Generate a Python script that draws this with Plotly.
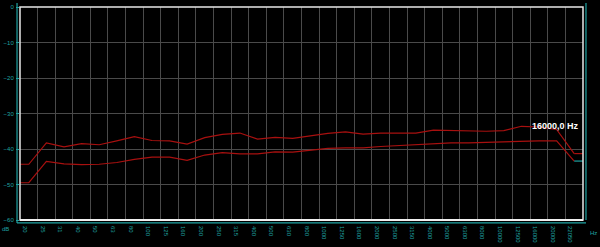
import plotly.graph_objects as go

freq_labels = ["20", "25", "31", "40", "50", "63", "80", "100", "125", "160", "200", "250",
               "315", "400", "500", "630", "800", "1000", "1250", "1600", "2000", "2500",
               "3150", "4000", "5000", "6300", "8000", "10000", "12500", "16000", "20000", "22050"]
upper_db = [-44.3, -38.3, -39.4, -38.5, -38.8, -37.7, -36.5, -37.6, -37.7, -38.6, -36.8, -35.9,
            -35.5, -37.2, -36.7, -37.0, -36.2, -35.6, -35.2, -35.8, -35.5, -35.5, -35.5, -34.7,
            -34.8, -35.0, -35.0, -34.8, -33.6, -33.8, -34.5, -41.3]
lower_db = [-49.5, -43.5, -44.2, -44.4, -44.3, -43.8, -42.9, -42.3, -42.3, -43.2, -41.7, -41.0,
            -41.4, -41.4, -40.8, -40.9, -40.3, -39.8, -39.7, -39.7, -39.3, -39.0, -38.8, -38.4,
            -38.3, -38.3, -38.1, -38.0, -37.7, -37.7, -37.7, -43.4]
y_ticks = [0, -10, -20, -30, -40, -50, -60]
cursor_label = "16000,0 Hz"
cursor_index = 29

TEAL = "#1fa3a3"
RED = "#a8100f"
GRID = "#4a4a4a"

n = len(freq_labels)
centers = [i + 0.5 for i in range(n)]

fig = go.Figure()
for vals in (upper_db, lower_db):
    fig.add_trace(go.Scatter(
        x=[0] + centers, y=[vals[0]] + vals,
        mode="lines", line=dict(color=RED, width=1.2), hoverinfo="skip", showlegend=False))
fig.add_trace(go.Scatter(x=[centers[-1], n], y=[upper_db[-1], upper_db[-1]], mode="lines",
                         line=dict(color=RED, width=1.2), showlegend=False, hoverinfo="skip"))
fig.add_trace(go.Scatter(x=[centers[-1], n], y=[lower_db[-1], lower_db[-1]], mode="lines",
                         line=dict(color=TEAL, width=1.2), showlegend=False, hoverinfo="skip"))

fig.add_annotation(x=cursor_index, y=upper_db[cursor_index - 1], xref="x", yref="y",
                   text="<b>" + cursor_label + "</b>", showarrow=False, xanchor="left",
                   yanchor="middle", font=dict(color="white", size=9, family="Liberation Sans"))

tick_font = dict(color=TEAL, size=6, family="Liberation Sans")

fig.update_layout(
    width=600, height=247,
    margin=dict(l=16, r=17, t=4, b=24),
    paper_bgcolor="black", plot_bgcolor="black",
    xaxis=dict(range=[0, n], tickmode="array", tickvals=list(range(n)), ticktext=freq_labels,
               tickangle=90, tickfont=tick_font, showgrid=True, gridcolor=GRID, gridwidth=1,
               zeroline=False, showline=False, ticks="", ticklabelshift=5, ticklabelstandoff=5,
               fixedrange=True),
    yaxis=dict(range=[-60, 0], tickmode="array", tickvals=y_ticks, tickfont=tick_font,
               showgrid=True, gridcolor=GRID, gridwidth=1, zeroline=False, showline=False,
               ticks="outside", ticklen=3, tickcolor=TEAL, ticklabelstandoff=1),
    yaxis2=dict(range=[-60, 0], tickmode="array", tickvals=y_ticks, tickfont=tick_font,
                overlaying="y", side="right", anchor="x", showgrid=False, zeroline=False,
                showline=False, ticks="outside", ticklen=3, tickcolor=TEAL, ticklabelstandoff=1),
)

# plot frame and teal axis lines (pixel offsets converted to domain fractions)
W, H = 567.0, 219.0
fig.add_shape(type="rect", xref="x domain", yref="y domain", x0=0, x1=1, y0=0, y1=1,
              line=dict(color="#e8e8e8", width=1.5))
fig.add_shape(type="line", xref="x domain", yref="y domain", x0=0, x1=1, y0=0, y1=0,
              line=dict(color="#f0f0f0", width=2.2))
fig.add_shape(type="line", xref="x domain", yref="y domain", x0=-3 / W, x1=-3 / W,
              y0=-3 / H, y1=1 + 4 / H, line=dict(color=TEAL, width=1.2))
fig.add_shape(type="line", xref="x domain", yref="y domain", x0=1 + 3 / W, x1=1 + 3 / W,
              y0=0, y1=1 + 4 / H, line=dict(color=TEAL, width=1.2))
fig.add_shape(type="line", xref="x domain", yref="y domain", x0=-3 / W, x1=1 + 3 / W,
              y0=-3 / H, y1=-3 / H, line=dict(color=TEAL, width=1.2))

fig.add_annotation(xref="paper", yref="paper", x=1 + 5 / W, y=-13 / H, text="Hz",
                   showarrow=False, xanchor="left", yanchor="middle", font=tick_font)
fig.add_annotation(xref="paper", yref="paper", x=-9 / W, y=-9 / H, text="dB",
                   showarrow=False, xanchor="right", yanchor="middle", font=tick_font)

fig.write_html("out.html")
